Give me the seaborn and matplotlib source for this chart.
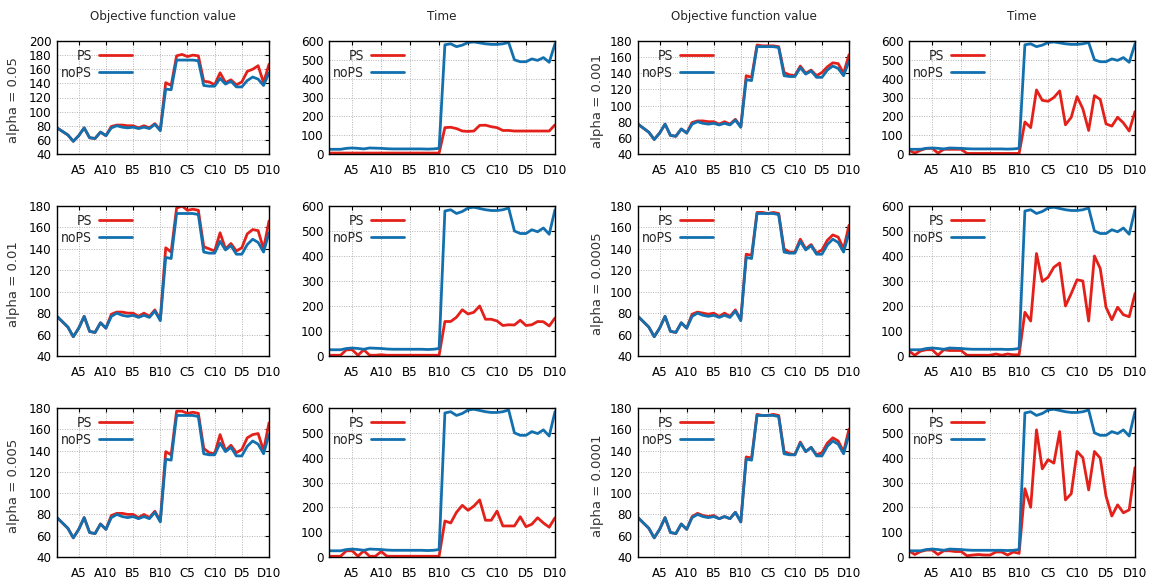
import matplotlib
matplotlib.use("Agg")
import numpy as np
import pandas as pd
import seaborn as sns
import matplotlib.pyplot as plt
from matplotlib import font_manager

# Instances A1..D10 on the x axis; every fifth one is labelled
instances = [f"{g}{i}" for g in "ABCD" for i in range(1, 11)]
tick_labels = ["A5", "A10", "B5", "B10", "C5", "C10", "D5", "D10"]
tick_positions = [4, 9, 14, 19, 24, 29, 34, 39]

alphas_left = ["0.05", "0.01", "0.005"]
alphas_right = ["0.001", "0.0005", "0.0001"]

# Objective function value without PS (same for every alpha)
obj_nops = [77, 72, 67, 58, 66, 77, 63, 62, 71, 66,
            77, 80, 78, 77, 78, 76, 78, 76, 82, 73,
            132, 131, 173, 173, 173, 173, 172, 137, 136, 136,
            147, 139, 143, 135, 135, 144, 149, 146, 137, 155]

# Objective function value with PS, one list per alpha
obj_ps_005 = [77, 72, 67, 58, 66, 77, 63, 62, 71, 66,
              79, 81, 81, 80, 80, 77, 80, 77, 83, 74,
              141, 137, 179, 181, 178, 180, 179, 143, 142, 138,
              155, 141, 145, 138, 142, 157, 160, 165, 141, 167]
obj_ps_001 = [77, 72, 67, 58, 66, 77, 63, 62, 71, 66,
              79, 81, 81, 80, 80, 77, 80, 77, 83, 74,
              141, 137, 178, 180, 176, 177, 176, 142, 140, 138,
              155, 140, 145, 138, 141, 154, 158, 157, 140, 166]
obj_ps_0005 = [77, 72, 67, 58, 66, 77, 63, 62, 71, 66,
               79, 81, 81, 80, 80, 77, 80, 77, 83, 74,
               139, 136, 177, 177, 175, 176, 175, 142, 138, 137,
               155, 140, 145, 138, 141, 152, 155, 156, 140, 166]
obj_ps_0001 = [77, 72, 67, 58, 66, 77, 63, 62, 71, 66,
               79, 81, 81, 80, 80, 77, 80, 77, 83, 74,
               137, 135, 175, 174, 174, 174, 173, 141, 138, 137,
               149, 140, 144, 137, 141, 148, 153, 152, 140, 163]
obj_ps_00005 = [77, 72, 67, 58, 66, 77, 63, 62, 71, 66,
                79, 81, 80, 79, 80, 77, 80, 77, 83, 74,
                135, 134, 174, 174, 173, 174, 173, 140, 137, 137,
                149, 140, 144, 136, 139, 148, 153, 151, 140, 162]
obj_ps_00001 = [77, 72, 67, 58, 66, 77, 63, 62, 71, 66,
                78, 81, 79, 78, 79, 76, 78, 76, 82, 73,
                134, 133, 174, 173, 173, 174, 173, 139, 137, 136,
                148, 139, 143, 136, 138, 147, 152, 149, 139, 160]

# Running time without PS (same for every alpha)
time_nops = [25, 25, 25, 30, 32, 30, 27, 32, 31, 30,
             28, 27, 27, 27, 27, 27, 27, 26, 27, 30,
             580, 585, 570, 578, 592, 595, 590, 585, 582, 582,
             585, 592, 500, 490, 490, 505, 497, 512, 487, 585]

# Running time with PS, one list per alpha
time_ps_005 = [5, 5, 5, 5, 5, 5, 5, 5, 5, 5,
               5, 5, 5, 5, 5, 5, 5, 5, 5, 5,
               140, 142, 135, 122, 120, 122, 152, 153, 145, 140,
               125, 125, 122, 122, 122, 122, 122, 122, 122, 155]
time_ps_001 = [3, 3, 3, 25, 25, 3, 25, 3, 3, 5,
               3, 3, 3, 3, 3, 3, 3, 3, 3, 3,
               138, 138, 155, 185, 168, 175, 200, 147, 147, 140,
               122, 125, 124, 143, 122, 125, 138, 137, 120, 152]
time_ps_0005 = [3, 3, 3, 25, 25, 3, 25, 3, 3, 22,
                3, 3, 3, 3, 3, 3, 3, 3, 3, 3,
                145, 137, 180, 208, 188, 205, 230, 148, 148, 185,
                125, 125, 125, 162, 122, 132, 158, 137, 120, 158]
time_ps_0001 = [20, 5, 20, 30, 30, 5, 25, 25, 25, 25,
                3, 3, 3, 3, 3, 3, 3, 3, 3, 3,
                170, 140, 340, 285, 280, 300, 335, 155, 195, 305,
                240, 125, 310, 290, 160, 148, 195, 165, 122, 225]
time_ps_00005 = [20, 3, 20, 25, 25, 3, 25, 22, 22, 22,
                 3, 3, 3, 3, 3, 8, 3, 8, 5, 5,
                 175, 140, 410, 298, 315, 355, 372, 200, 250, 305,
                 300, 140, 400, 350, 195, 145, 195, 165, 157, 250]
time_ps_00001 = [25, 10, 22, 28, 28, 10, 25, 25, 22, 22,
                 5, 8, 10, 8, 8, 20, 20, 8, 20, 15,
                 275, 200, 512, 355, 392, 378, 505, 230, 255, 425,
                 400, 270, 425, 398, 245, 165, 210, 178, 190, 360]

RED = "#e3211a"
BLUE = "#1370ae"
GRID = "#b4b4b4"

sns.set_theme(style="white")
ttf = font_manager.fontManager.ttflist
has_condensed = any("DejaVuSansCondensed" in f.fname for f in ttf)
if has_condensed:
    plt.rcParams["font.family"] = ["DejaVu Sans"]
    plt.rcParams["font.stretch"] = "condensed"
else:
    plt.rcParams["font.family"] = ["Liberation Sans", "DejaVu Sans"]
plt.rcParams["axes.edgecolor"] = "black"
plt.rcParams["axes.linewidth"] = 1.0

W, H = 1149, 584
fig = plt.figure(figsize=(W / 100, H / 100), dpi=100)
fig.patch.set_facecolor("white")


def px_rect(left, top, right, bottom):
    return [left / W, 1 - bottom / H, (right - left) / W, (bottom - top) / H]


rows = [(41, 154), (206, 356), (408, 557)]
cols = [(57, 269), (329, 555), (638, 849), (909, 1135)]

x = np.arange(len(instances))


def draw_panel(ax, ps, nops, ylim, yticks, col_left, row_top, title=None):
    df = pd.DataFrame({
        "pos": np.concatenate([x, x]),
        "value": list(ps) + list(nops),
        "method": ["PS"] * len(ps) + ["noPS"] * len(nops),
    })
    sns.lineplot(data=df, x="pos", y="value", hue="method",
                 hue_order=["PS", "noPS"],
                 palette={"PS": RED, "noPS": BLUE},
                 linewidth=2.0, legend=False, ax=ax)
    ax.set_xlim(0, len(instances) - 1)
    ax.set_ylim(*ylim)
    ax.set_xticks(tick_positions)
    ax.set_xticklabels(tick_labels)
    ax.set_yticks(yticks)
    ax.set_xlabel("")
    ax.set_ylabel("")
    ax.grid(True, color=GRID, linestyle=(0, (1, 1.5)), linewidth=0.7)
    ax.set_axisbelow(True)
    ax.tick_params(axis="both", which="both", direction="in", length=3,
                   width=0.8, labelsize=9.5, colors="black",
                   top=True, right=True)
    ax.tick_params(axis="x", pad=7)
    ax.tick_params(axis="y", pad=4)
    for s in ax.spines.values():
        s.set_visible(True)
        s.set_color("black")
        s.set_linewidth(1.0)
    ax.legend(handles=ax.lines[:2], labels=["PS", "noPS"],
              loc="upper left",
              bbox_to_anchor=((col_left + 4) / W, 1 - (row_top + 8) / H),
              bbox_transform=fig.transFigure,
              frameon=False, markerfirst=False, fontsize=10,
              handlelength=2.4, handletextpad=0.5, labelspacing=0.2,
              borderpad=0, borderaxespad=0)
    if title:
        ax.set_title(title, fontsize=9.5, pad=15)


obj_left = [obj_ps_005, obj_ps_001, obj_ps_0005]
obj_right = [obj_ps_0001, obj_ps_00005, obj_ps_00001]
time_left = [time_ps_005, time_ps_001, time_ps_0005]
time_right = [time_ps_0001, time_ps_00005, time_ps_00001]

obj_ticks_200 = [40, 60, 80, 100, 120, 140, 160, 180, 200]
obj_ticks_180 = [40, 60, 80, 100, 120, 140, 160, 180]
time_ticks = [0, 100, 200, 300, 400, 500, 600]

for r, (top, bottom) in enumerate(rows):
    titles = r == 0
    # left block
    ax = fig.add_axes(px_rect(cols[0][0], top, cols[0][1], bottom))
    if r == 0:
        draw_panel(ax, obj_left[r], obj_nops, (40, 200), obj_ticks_200,
                   cols[0][0], top, "Objective function value")
    else:
        draw_panel(ax, obj_left[r], obj_nops, (40, 180), obj_ticks_180,
                   cols[0][0], top)
    ax = fig.add_axes(px_rect(cols[1][0], top, cols[1][1], bottom))
    draw_panel(ax, time_left[r], time_nops, (0, 600), time_ticks,
               cols[1][0], top, "Time" if titles else None)
    # right block
    ax = fig.add_axes(px_rect(cols[2][0], top, cols[2][1], bottom))
    draw_panel(ax, obj_right[r], obj_nops, (40, 180), obj_ticks_180,
               cols[2][0], top, "Objective function value" if titles else None)
    ax = fig.add_axes(px_rect(cols[3][0], top, cols[3][1], bottom))
    draw_panel(ax, time_right[r], time_nops, (0, 600), time_ticks,
               cols[3][0], top, "Time" if titles else None)

    yc = 1 - ((top + bottom) / 2 + 3) / H
    fig.text(14 / W, yc, f"alpha = {alphas_left[r]}", rotation=90,
             ha="center", va="center", fontsize=9.5, color="#333333",
             family="DejaVu Sans", stretch="normal")
    fig.text(598 / W, yc, f"alpha = {alphas_right[r]}", rotation=90,
             ha="center", va="center", fontsize=9.5, color="#333333",
             family="DejaVu Sans", stretch="normal")

fig.savefig("out.png", dpi=100, facecolor="white")
